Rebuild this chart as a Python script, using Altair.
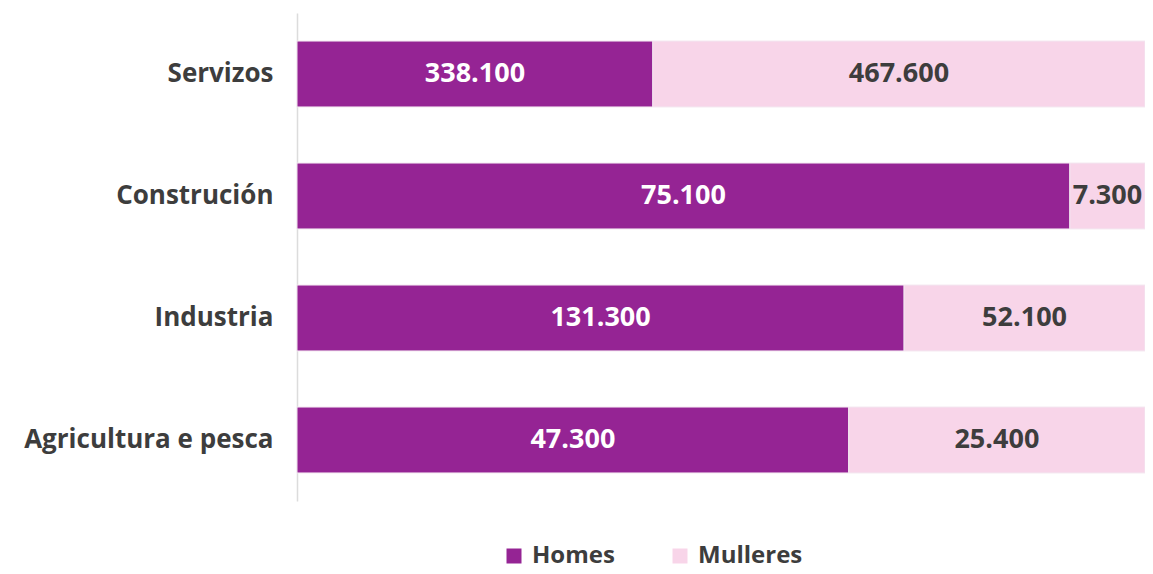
import altair as alt
import pandas as pd

categories = ["Servizos", "Construción", "Industria", "Agricultura e pesca"]
homes = [338100, 75100, 131300, 47300]
mulleres = [467600, 7300, 52100, 25400]
series = ["Homes", "Mulleres"]

rows = []
for i, c in enumerate(categories):
    rows.append({"cat": c, "serie": series[0], "v": homes[i], "ord": 0})
    rows.append({"cat": c, "serie": series[1], "v": mulleres[i], "ord": 1})
df = pd.DataFrame(rows)

FONT = "Open Sans"
PURPLE = "#952494"
PINK = "#f8d5e9"
TXT = "#3d3d3d"

base = alt.Chart(df).transform_stack(
    stack="v", groupby=["cat"], as_=["x0", "x1"], offset="normalize",
    sort=[alt.SortField("ord", order="ascending")]
).transform_calculate(
    mid="(datum.x0 + datum.x1) / 2",
    lbl="replace(format(datum.v, ','), ',', '.')"
)

yenc = alt.Y("cat:N", sort=categories, title=None,
             scale=alt.Scale(paddingInner=0.46, paddingOuter=0.23),
             axis=alt.Axis(domain=True, domainColor="#dcdcdc", domainWidth=1.5,
                           ticks=False, labelFont=FONT, labelFontSize=26,
                           labelFontWeight="bold", labelColor=TXT,
                           labelPadding=24, labelLimit=400))

bars = base.mark_bar(stroke="#f3e6f0", strokeWidth=1).encode(
    x=alt.X("x0:Q", scale=alt.Scale(domain=[0, 1], nice=False), axis=None),
    x2="x1:Q",
    y=yenc,
    color=alt.Color("serie:N", scale=alt.Scale(domain=series, range=[PURPLE, PINK]),
                    legend=alt.Legend(title=None, orient="none", direction="horizontal",
                                      legendX=205, legendY=531, symbolType="square",
                                      symbolSize=225, symbolStrokeWidth=0,
                                      labelFont=FONT, labelFontSize=24,
                                      labelFontWeight="bold", labelColor=TXT,
                                      columnPadding=53, labelOffset=6)),
)

text = base.mark_text(font=FONT, fontSize=27, fontWeight="bold", baseline="middle",
                      align="center").encode(
    x=alt.X("mid:Q"),
    y=alt.Y("cat:N", sort=categories),
    text="lbl:N",
    color=alt.Color("serie:N", scale=alt.Scale(domain=series, range=["#ffffff", TXT]),
                    legend=None),
)

chart = alt.layer(bars, text).resolve_scale(color="independent").properties(
    width=848, height=488,
    autosize=alt.AutoSizeParams(type="none"),
    padding={"left": 289, "top": 5, "right": 0, "bottom": 65},
).configure_view(stroke=None)

chart.save("out.html", embed_options={"renderer": "svg", "actions": False})
